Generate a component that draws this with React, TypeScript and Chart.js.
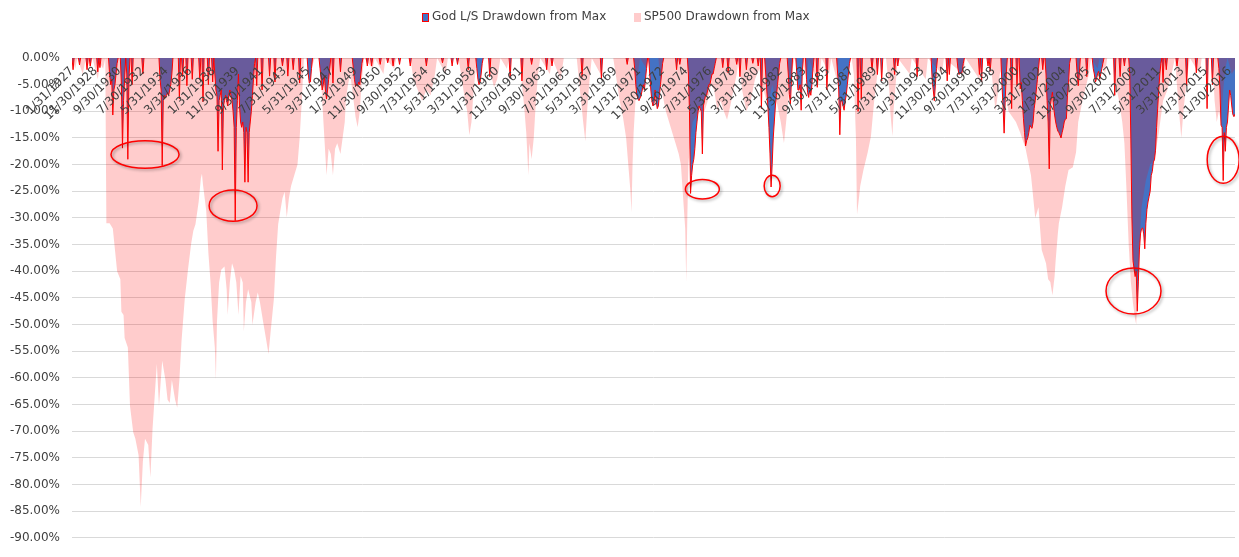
import React, { useEffect, useRef } from 'react';
import { Chart, registerables } from 'chart.js';

Chart.register(...registerables);

const FONT = '"DejaVu Sans", Verdana, sans-serif';

const seriesNames = ['God L/S Drawdown from Max', 'SP500 Drawdown from Max'];
const seriesColors = {
  godFill: '#4472C4',
  godBorder: '#FF0000',
  spFill: 'rgba(255,0,0,0.2)',
};

// Category labels shown on the axis (every 22nd month)
const xTickLabels = [
  '1/31/1927', '11/30/1928', '9/30/1930', '7/30/1932', '5/31/1934', '3/31/1936', '1/31/1938',
  '11/30/1939', '9/30/1941', '7/31/1943', '5/31/1945', '3/31/1947', '1/31/1949', '11/30/1950',
  '9/30/1952', '7/31/1954', '5/31/1956', '3/31/1958', '1/31/1960', '11/30/1961', '9/30/1963',
  '7/31/1965', '5/31/1967', '3/31/1969', '1/31/1971', '11/30/1972', '9/30/1974', '7/31/1976',
  '5/31/1978', '3/31/1980', '1/31/1982', '11/30/1983', '9/30/1985', '7/31/1987', '5/31/1989',
  '3/31/1991', '1/31/1993', '11/30/1994', '9/30/1996', '7/31/1998', '5/31/2000', '3/31/2002',
  '1/31/2004', '11/30/2005', '9/30/2007', '7/31/2009', '5/31/2011', '3/31/2013', '1/31/2015',
  '11/30/2016',
];

// months counted from January 1927
const lastMonth = 1083;

// God L/S drawdown: [first month, consecutive monthly values in %]; 0 elsewhere
const godDrawdownEpisodes: [number, number[]][] = [
  [1, [-2.2]], [7, [-1.3]], [14, [-2.2]], [17, [-1.5]], [24, [-2.6]], [26, [-1.8]],
  [35, [-3, -5, -4, -10.7, -6, -5, -3, -1]],
  [46, [-5, -16.9, -8, -4]],
  [51, [-3, -19, -4]],
  [56, [-5]], [66, [-3]],
  [82, [-4, -6, -20.2, -8, -7, -7.5, -7, -6.5, -7, -6, -5, -3]],
  [100, [-7.7]], [103, [-3.5]], [107, [-5.2]], [112, [-4]], [119, [-4]], [122, [-8.2]], [127, [-5]], [131, [-4.5]],
  [133, [-3, -6, -7, -17.5, -8, -7, -6, -21, -9, -8, -7, -8, -9, -7, -6, -7, -8, -10, -13, -30.5, -13, -8, -3,
    -9, -12, -13, -12, -14, -23.3, -13, -14, -23.3, -14, -12, -10, -7, -4, -1]],
  [172, [-5.2]], [177, [-6]], [184, [-3.4]], [189, [-4.5]], [196, [-1.5]], [201, [-3.4]], [206, [-2.2]], [212, [-4.7]],
  [220, [-3, -4.7, -4.5, -2]],
  [231, [-2, -4, -6, -5, -3.4, -6, -7.7, -6, -4, -2]],
  [243, [-4.7]], [250, [-2.6]],
  [262, [-2, -4, -5.3, -5, -5.3, -4.5, -5, -3, -1]],
  [275, [-1.5]], [279, [-1.5]], [287, [-1.2]], [294, [-0.9]], [299, [-1.5]], [305, [-1.2]], [315, [-1.5]],
  [330, [-1.5]], [345, [-0.9]], [354, [-1.5]], [359, [-1.2]], [369, [-2.2]],
  [377, [-2, -4, -5, -4.5, -3, -1]],
  [389, [-3.5]], [408, [-3.8]], [419, [-4.3]], [428, [-1.2]], [442, [-2.2]], [447, [-1.5]], [475, [-3.5]],
  [493, [-4]], [517, [-1.2]],
  [524, [-2, -5, -7, -7.7, -8, -7.5, -7, -6, -5, -6, -4, -2]],
  [538, [-3, -6, -8, -9, -8.5, -6, -8, -9.5, -9, -7, -5, -3, -1]],
  [563, [-2.2]], [566, [-1.2]],
  [574, [-3, -10, -25.4, -22, -20, -19, -17, -14, -12, -10, -9, -9.5, -10, -18, -9, -8, -7, -7, -6, -5, -5, -4,
    -3, -3, -2, -1]],
  [606, [-1.8]], [611, [-2.8]], [619, [-1.2]], [622, [-3.5]], [628, [-2.2]], [634, [-1]], [639, [-1.5]], [642, [-9.5]],
  [646, [-3, -6, -9, -13, -18, -24.2, -20, -15, -12, -9, -7, -5, -3, -1]],
  [667, [-3, -6.8, -8.6, -4]],
  [675, [-3, -6, -6, -5, -9.8, -3]],
  [684, [-4, -6.5, -7.4, -6, -7, -5, -2]],
  [694, [-5.5]], [703, [-6]],
  [713, [-3, -6, -14.4, -8, -8, -9, -9.8, -8, -7, -5, -3, -1]],
  [732, [-10]], [735, [-7.7]], [745, [-2.2]], [750, [-3.1]], [754, [-4.3]], [766, [-3.1]], [769, [-1.5]], [787, [-3.5]],
  [801, [-4, -6, -8, -5, -2]],
  [815, [-4.3]], [817, [-3.1]],
  [825, [-2, -3.1, -2.8, -3, -2.5, -1]],
  [845, [-3.1]], [847, [-4.5]], [853, [-1.5]], [855, [-2.5]],
  [866, [-5, -9, -14.1, -8, -3]],
  [875, [-9.5]], [880, [-5.2]],
  [883, [-5.8, -4.6, -8, -11.4, -14, -16.5, -15.5, -15, -14, -12.6, -13, -13.2, -12, -9.5, -8, -6, -4, -2]],
  [904, [-2.2]],
  [907, [-3, -8, -12, -20.8, -9, -7.6, -6.4, -9, -10.7, -12, -13, -13.7, -14, -14.5, -15, -14, -13.2, -12, -11.5,
    -11.4, -7, -4.6, -1]],
  [936, [-3, -5.2, -3]], [945, [-3.5]],
  [951, [-2, -3, -4.5, -4, -3, -2.5, -4, -3, -2, -1]],
  [971, [-7]], [976, [-3.5]], [980, [-1.5]],
  [985, [-3, -15, -30, -38, -39.5, -41, -40, -47.5, -42, -36, -33, -32, -31.9, -33, -35.8, -31, -28.4, -27, -26,
    -25, -22, -21.3, -19.5, -19.1, -17.3, -13, -9.4, -6, -3, -1]],
  [1016, [-4.6]], [1019, [-2.2]], [1029, [-1.5]], [1038, [-5.2]], [1047, [-2.8]], [1057, [-9.5]], [1062, [-5]],
  [1068, [-2, -6, -12.6, -13, -23, -14, -17.5, -13, -12, -9, -6, -7, -9, -10.6, -11, -10.5]],
];

// SP500 drawdown key points: [month, value in %]
const sp500Drawdown: [number, number][] = [
  [0, 0], [3, -2], [5, 0], [10, -3], [13, 0], [17, -2], [19, 0], [24, -4], [26, -1], [29, -2], [31, 0],
  [32, -31], [35, -31], [38, -32], [42, -40], [45, -41.5], [46, -47.6], [48, -48.2], [49, -52.5], [52, -54.3],
  [54, -65.3], [57, -70.2], [59, -71.4], [62, -74.5], [64, -84.2], [66, -75.7], [68, -71.4], [71, -72.6],
  [73, -78.7], [75, -69.6], [77, -63.5], [79, -57.4], [81, -65.3], [84, -56.8], [87, -60.4], [89, -64.1],
  [91, -64.7], [93, -60.4], [96, -64.1], [98, -65.6], [100, -60.4], [102, -53.1], [105, -45.2], [108, -39.7],
  [111, -34.8], [113, -32.4], [115, -31.2], [118, -26.9], [120, -22.6], [121, -21.7], [122, -23.8], [125, -28.7],
  [127, -36.6], [129, -42.1], [131, -49.5], [133, -54.3], [134, -60.4], [135, -49.5], [137, -42.1], [139, -39.7],
  [142, -39.1], [144, -43.4], [145, -48.2], [147, -42.1], [149, -38.5], [151, -39.7], [153, -42.1], [155, -48.2],
  [157, -40.9], [159, -42.1], [160, -51.3], [162, -45.8], [164, -43.4], [167, -45.8], [168, -50.1], [171, -45.8],
  [173, -44.0], [175, -45.8], [178, -49.5], [181, -53.1], [183, -55.5], [185, -51.3], [188, -45.2], [190, -37.3],
  [192, -31.2], [194, -28.7], [196, -26.3], [198, -25.1], [200, -29.9], [202, -26.3], [204, -24], [207, -22],
  [210, -20], [212, -15], [214, -8], [215, -4], [216, 0],
  [220, 0], [223, -2], [226, 0],
  [231, 0], [233, -8], [235, -15], [237, -22], [239, -17], [241, -18], [242, -20], [243, -22], [245, -17],
  [247, -16], [250, -18], [252, -15], [254, -12], [255, -8], [257, -5], [259, -3], [261, -6], [264, -11],
  [266, -13], [268, -10], [270, -4], [272, 0],
  [280, -2], [282, 0], [290, -3], [292, 0], [300, -2], [302, 0],
  [315, 0], [318, -4], [322, -6], [326, -8], [330, -6], [334, -7], [338, -3], [340, 0],
  [348, -3], [350, 0],
  [360, 0], [363, -4], [366, -8], [368, -10], [370, -14.5], [372, -12], [374, -6], [376, -2], [378, 0],
  [387, 0], [390, -3], [393, -5.5], [396, -4], [399, 0],
  [405, -2], [407, 0],
  [417, 0], [419, -5], [421, -9], [423, -14], [425, -22], [426, -16], [428, -19], [430, -15], [432, -8],
  [434, -3], [436, 0],
  [445, -3], [447, 0], [455, -4], [458, 0],
  [470, 0], [473, -6], [476, -12], [478, -15.6], [480, -9], [482, -4], [484, 0],
  [492, -3], [495, 0],
  [504, 0], [507, -4], [510, -8], [513, -11], [516, -15], [518, -20], [520, -25], [521, -29], [522, -20],
  [523, -14], [525, -7], [527, -3], [529, 0],
  [535, -2], [538, 0],
  [546, 0], [548, -4], [550, -7], [553, -10], [556, -12], [559, -14], [562, -16], [565, -18], [567, -20],
  [569, -26], [571, -32], [572, -42], [573, -30], [574, -20], [576, -15], [578, -12], [581, -11], [585, -10],
  [589, -10], [592, -8], [595, -5], [598, -6], [601, -10], [604, -8], [607, -10], [610, -11.6], [613, -9],
  [616, -6], [619, -3], [621, 0],
  [624, -6], [628, -10], [632, -8], [636, -4], [640, -2], [644, -6], [648, -9], [652, -5], [656, -8],
  [660, -12], [663, -16], [665, -12], [668, -6], [671, -2], [673, 0],
  [680, 0], [684, -4], [686, 0], [695, -5], [698, 0], [705, -3], [707, 0], [712, -4], [714, 0],
  [726, 0], [728, -3], [730, -15], [731, -29.4], [733, -26], [734, -24], [737, -21], [741, -17.7],
  [744, -14.7], [747, -8], [750, -3], [752, 0],
  [758, 0], [761, -6], [762, -10], [764, -14.7], [765, -10], [767, -5], [769, 0],
  [780, -3], [782, 0], [795, -4], [797, 0], [810, -3], [812, 0], [830, -3], [832, 0], [845, -4], [847, 0],
  [855, 0], [858, -6], [860, -10], [862, -7], [864, -3], [866, -2],
  [868, -5], [872, -10], [879, -12], [883, -14], [888, -17], [893, -22], [897, -30], [900, -28], [903, -36],
  [907, -38.5], [909, -41.5], [911, -42], [913, -44.5], [915, -41], [916, -38], [918, -33], [919, -31],
  [922, -28], [925, -24], [928, -21], [932, -20.5], [935, -17.7], [937, -12], [941, -8], [944, -5.5],
  [947, -3], [949, 0],
  [955, -2], [957, 0], [962, -3], [964, 0],
  [969, 0], [972, -5], [975, -8], [978, -12], [980, -16], [982, -25], [984, -35], [986, -42], [988, -46],
  [990, -49], [991, -50], [992, -46], [993, -40], [994, -35], [996, -28], [1000, -23], [1004, -20],
  [1008, -19], [1012, -14], [1016, -8], [1020, -6], [1024, -3], [1027, 0], [1030, -8], [1033, -15],
  [1035, -10], [1038, -4], [1041, 0],
  [1050, -3], [1052, 0],
  [1062, 0], [1064, -8], [1066, -12], [1068, -10], [1070, -12], [1072, -6], [1074, -2], [1076, 0],
  [1080, -3], [1083, -2],
];

// Hand-drawn red circles: [center month, center %, radius in months, radius in %]
const highlightEllipses: [number, number, number, number][] = [
  [68, -18.1, 31.7, 2.57],
  [150, -27.7, 22.3, 2.93],
  [587, -24.6, 15.8, 1.83],
  [652, -24.0, 7.45, 2.02],
  [988.5, -43.7, 25.6, 4.31],
  [1072, -19.1, 14.9, 4.4],
];

const yAxisRange = { min: -90, max: 0, step: 5 };

const TEXT_COLOR = '#404040';

function monthOfLabel(label: string): number {
  const [m, , y] = label.split('/').map(Number);
  return (y - 1927) * 12 + (m - 1);
}

function buildGodSeries() {
  const values: number[] = new Array(lastMonth + 1).fill(0);
  for (const [start, vals] of godDrawdownEpisodes) {
    vals.forEach((v, i) => {
      values[start + i] = v;
    });
  }
  return values.map((y, x) => ({ x, y }));
}

const ellipsePlugin = {
  id: 'highlightEllipses',
  afterDatasetsDraw(chart: any) {
    const { ctx } = chart;
    const xs = chart.scales.x;
    const ys = chart.scales.y;
    ctx.save();
    for (const [m, v, rm, rv] of highlightEllipses) {
      const cx = xs.getPixelForValue(m);
      const cy = ys.getPixelForValue(v);
      const rx = Math.abs(xs.getPixelForValue(m + rm) - cx);
      const ry = Math.abs(ys.getPixelForValue(v + rv) - cy);
      ctx.beginPath();
      ctx.ellipse(cx, cy, rx, ry, 0, 0, Math.PI * 2);
      ctx.shadowColor = 'rgba(0,0,0,0.35)';
      ctx.shadowBlur = 3;
      ctx.shadowOffsetX = 1.5;
      ctx.shadowOffsetY = 1.5;
      ctx.strokeStyle = '#FF0000';
      ctx.lineWidth = 1.5;
      ctx.stroke();
    }
    ctx.restore();
  },
};

const legendPlugin = {
  id: 'topLegend',
  afterDraw(chart: any) {
    const { ctx } = chart;
    const ds = chart.data.datasets;
    ctx.save();
    ctx.font = `12px ${FONT}`;
    const boxW = 7;
    const boxH = 9;
    const boxGap = 3;
    const itemGap = 28;
    const widths = ds.map((d: any) => boxW + boxGap + ctx.measureText(d.label).width);
    const total = widths.reduce((a: number, b: number) => a + b, 0) + itemGap * (ds.length - 1);
    let x = 616 - total / 2;
    const cy = 17;
    ds.forEach((d: any, i: number) => {
      const top = Math.round(cy - boxH / 2);
      const left = Math.round(x);
      ctx.fillStyle = d.backgroundColor;
      ctx.fillRect(left, top, boxW, boxH);
      if (d.borderWidth > 0) {
        ctx.strokeStyle = d.borderColor;
        ctx.lineWidth = 1;
        ctx.strokeRect(left + 0.5, top + 0.5, boxW - 1, boxH - 1);
      }
      ctx.fillStyle = TEXT_COLOR;
      ctx.textBaseline = 'middle';
      ctx.textAlign = 'left';
      ctx.fillText(d.label, left + boxW + boxGap, cy);
      x += widths[i] + itemGap;
    });
    ctx.restore();
  },
};

export default function App() {
  const canvasRef = useRef<HTMLCanvasElement | null>(null);

  useEffect(() => {
    if (!canvasRef.current) return;
    Chart.defaults.font.family = FONT;
    Chart.defaults.font.size = 12;
    const labelByMonth = new Map<number, string>();
    xTickLabels.forEach((l) => labelByMonth.set(monthOfLabel(l), l));

    const chart = new Chart(canvasRef.current, {
      type: 'line',
      data: {
        datasets: [
          {
            label: seriesNames[0],
            data: buildGodSeries(),
            backgroundColor: seriesColors.godFill,
            borderColor: seriesColors.godBorder,
            borderWidth: 1,
            fill: 'origin',
            pointRadius: 0,
            tension: 0,
            order: 2,
            segment: {
              borderColor: (c: any) =>
                c.p0.parsed.y === 0 && c.p1.parsed.y === 0 ? 'rgba(0,0,0,0)' : seriesColors.godBorder,
            },
          } as any,
          {
            label: seriesNames[1],
            data: sp500Drawdown.map(([x, y]) => ({ x, y })),
            backgroundColor: seriesColors.spFill,
            borderColor: 'rgba(0,0,0,0)',
            borderWidth: 0,
            fill: 'origin',
            pointRadius: 0,
            tension: 0,
            order: 1,
          } as any,
        ],
      },
      options: {
        responsive: false,
        animation: false,
        events: [],
        layout: { padding: { top: 58, bottom: 8, left: 0, right: 4 } },
        plugins: {
          legend: { display: false },
          tooltip: { enabled: false },
        },
        scales: {
          x: {
            type: 'linear',
            position: { y: 0 } as any,
            min: 0,
            max: lastMonth,
            grid: { display: false, drawTicks: false },
            border: { display: false },
            afterBuildTicks: (scale: any) => {
              scale.ticks = xTickLabels.map((l) => ({ value: monthOfLabel(l) }));
            },
            afterFit: (scale: any) => {
              scale.paddingLeft = 0;
              scale.paddingRight = 0;
              scale.paddingTop = 0;
              scale.paddingBottom = 0;
            },
            ticks: {
              autoSkip: false,
              minRotation: 45,
              maxRotation: 45,
              padding: 6,
              z: 1,
              color: TEXT_COLOR,
              font: { family: FONT, size: 12 },
              callback: (value: any) => labelByMonth.get(Number(value)) ?? '',
            },
          },
          y: {
            type: 'linear',
            min: yAxisRange.min,
            max: yAxisRange.max,
            afterFit: (scale: any) => {
              scale.width = 72;
            },
            grid: { color: '#D9D9D9', lineWidth: 1, drawTicks: false },
            border: { display: false },
            ticks: {
              stepSize: yAxisRange.step,
              padding: 12,
              color: TEXT_COLOR,
              font: { family: FONT, size: 12 },
              callback: (value: any) => Number(value).toFixed(2) + '%',
            },
          },
        },
      } as any,
      plugins: [ellipsePlugin, legendPlugin],
    });
    return () => chart.destroy();
  }, []);

  return (
    <div style={{ position: 'fixed', left: 0, top: 0, width: 1239, height: 557, background: '#fff' }}>
      <canvas ref={canvasRef} width={1239} height={557} />
    </div>
  );
}
